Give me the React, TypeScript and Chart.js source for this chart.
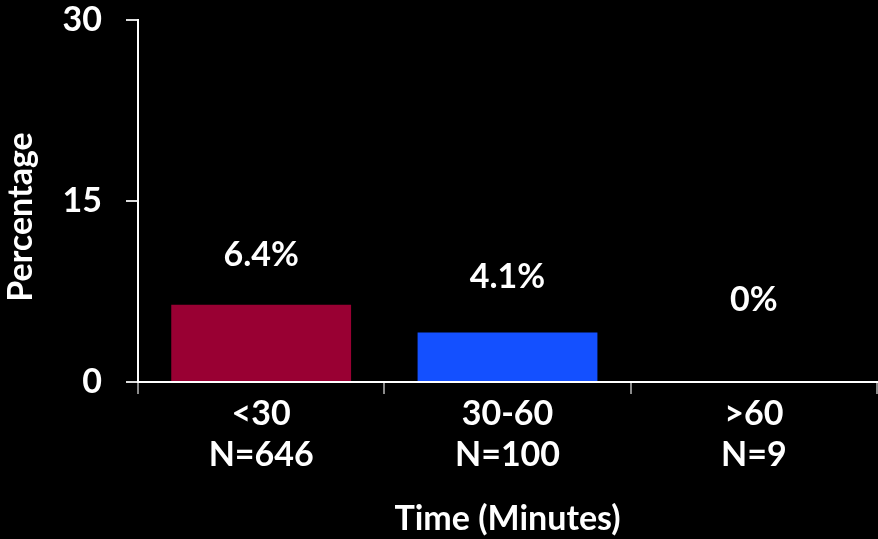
import React, { useEffect, useRef } from "react";
import { Chart, registerables } from "chart.js";

Chart.register(...registerables);

const categories: string[][] = [["<30", "N=646"], ["30-60", "N=100"], [">60", "N=9"]];
const values: number[] = [6.4, 4.1, 0];
const valueLabels: string[] = ["6.4%", "4.1%", "0%"];
const barColors: string[] = ["#990033", "#1450FF", "#000000"];
const labelOffsets: number[] = [50, 55, 82];
const yTicks: number[] = [0, 15, 30];
const yTitle = "Percentage";
const xTitle = "Time (Minutes)";

const FONT = "Lato, 'Open Sans', sans-serif";
const FS = 34;

const labelPlugin = {
  id: "valueLabels",
  afterDatasetsDraw(chart: any) {
    const ctx = chart.ctx;
    const meta = chart.getDatasetMeta(0);
    ctx.save();
    ctx.fillStyle = "#ffffff";
    ctx.font = `bold ${FS}px ${FONT}`;
    ctx.textAlign = "center";
    ctx.textBaseline = "middle";
    meta.data.forEach((bar: any, i: number) => {
      ctx.fillText(valueLabels[i], bar.x, bar.y - labelOffsets[i]);
    });
    // y axis title
    ctx.translate(21, 217);
    ctx.rotate(-Math.PI / 2);
    ctx.fillText(yTitle, 0, 0);
    ctx.restore();
  },
};

const bgPlugin = {
  id: "bg",
  beforeDraw(chart: any) {
    const ctx = chart.ctx;
    ctx.save();
    ctx.fillStyle = "#000000";
    ctx.fillRect(0, 0, chart.width, chart.height);
    ctx.restore();
  },
};

export default function App() {
  const ref = useRef<HTMLCanvasElement | null>(null);
  useEffect(() => {
    if (!ref.current) return;
    const chart = new Chart(ref.current, {
      type: "bar",
      data: {
        labels: categories,
        datasets: [
          {
            data: values,
            backgroundColor: barColors,
            barPercentage: 0.73,
            categoryPercentage: 1,
          },
        ],
      },
      options: {
        animation: false,
        responsive: false,
        maintainAspectRatio: false,
        layout: { padding: { top: 20, right: 1, left: 0, bottom: 0 } },
        plugins: { legend: { display: false }, tooltip: { enabled: false } },
        scales: {
          x: {
            afterFit: (s: any) => {
              s.height = 157;
              s.paddingLeft = 0;
              s.paddingRight = 0;
            },
            border: { color: "#ffffff", width: 2 },
            grid: { drawOnChartArea: false, color: "#8a8a8a", tickLength: 12, lineWidth: 2 },
            ticks: {
              color: "#ffffff",
              font: { family: FONT, size: FS, weight: "bold", lineHeight: 1.2 },
              padding: 0,
              maxRotation: 0,
            },
            title: {
              display: true,
              text: xTitle,
              color: "#ffffff",
              font: { family: FONT, size: FS, weight: "bold" },
              padding: { top: 16, bottom: 0 },
            },
          },
          y: {
            min: 0,
            max: 30,
            afterFit: (s: any) => {
              s.width = 138;
              s.paddingTop = 0;
              s.paddingBottom = 0;
            },
            afterBuildTicks: (s: any) => {
              s.ticks = yTicks.map((v) => ({ value: v }));
            },
            border: { color: "#ffffff", width: 2 },
            grid: { drawOnChartArea: false, color: "#dddddd", tickLength: 12, lineWidth: 2 },
            ticks: {
              color: "#ffffff",
              font: { family: FONT, size: FS, weight: "bold" },
              padding: 24,
            },
          },
        },
      },
      plugins: [bgPlugin, labelPlugin],
    });
    return () => chart.destroy();
  }, []);
  return (
    <div style={{ position: "absolute", left: 0, top: 0, width: 878, height: 539, background: "#000" }}>
      <canvas ref={ref} width={878} height={539} style={{ display: "block", width: 878, height: 539 }} />
    </div>
  );
}
